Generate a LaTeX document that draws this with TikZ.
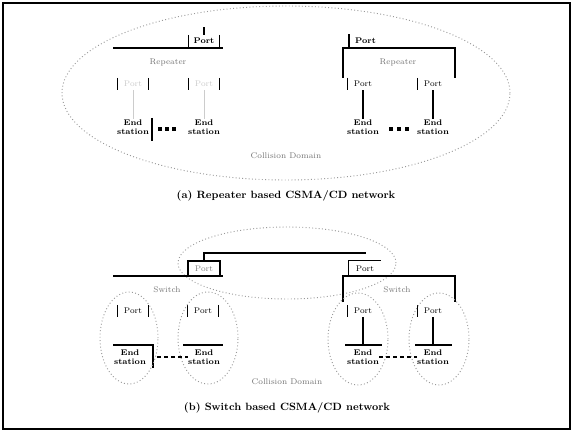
\documentclass[tikz,border=0pt]{standalone}
\usetikzlibrary{positioning}
\begin{document}
\begin{tikzpicture}[x=0.03cm,y=-0.03cm,
  port/.style={minimum width=0.9cm,minimum height=0.36cm,inner sep=0pt,font=\scriptsize},
  station/.style={align=center,font=\scriptsize\bfseries,inner sep=0pt},
  bus/.style={line width=0.9pt},
  cdomain/.style={dotted,line width=0.8pt,gray!80},
  faint/.style={gray!40},
  lbl/.style={font=\scriptsize,text=black!55},
  figcaption/.style={font=\small\bfseries}]
\useasboundingbox (0,0) rectangle (573,432);
\draw[line width=1.4pt] (3,3) rectangle (570,429);

% (a) repeater based network
\draw[cdomain] (286,93) ellipse [x radius=6.72cm, y radius=2.61cm];
% left repeater
\draw[bus] (113,48) -- (223,48);
\node[port,font=\scriptsize\bfseries] (lp0) at (204,41) {Port};
\draw[bus] (lp0.north west) -- (lp0.south west);
\draw[bus] (lp0.north east) -- (lp0.south east);
\draw[bus] (lp0.north) -- ++(0,-8);
\node[lbl] (lrep) at (168,62) {Repeater};
\node[port,faint] (lp1) at (133,84) {Port};
\node[port,faint] (lp2) at (204,84) {Port};
\foreach \p in {lp1,lp2}{
  \draw[bus] (\p.north west) -- (\p.south west);
  \draw[bus] (\p.north east) -- (\p.south east);
}
\node[station] (ls1) at (133,127) {End\\station};
\node[station] (ls2) at (204,127) {End\\station};
\draw[faint] (lp1) -- (ls1);
\draw[faint] (lp2) -- (ls2);
\draw[bus] (152,118) -- (152,141);
\foreach \i in {0,1,2} \fill (158+7*\i,127) rectangle ++(4,4);

% right repeater
\draw[bus] (343,78) -- (343,48) -- (455,48) -- (455,78);
\coordinate (rtap) at (349,34);
\draw[bus] (349,48) -- (rtap);
\node[font=\scriptsize\bfseries,anchor=west] (rp0) at (351,41) {Port};
\node[lbl] (rrep) at (398,62) {Repeater};
\node[port] (rp1) at (363,84) {Port};
\node[port] (rp2) at (433,84) {Port};
\foreach \p in {rp1,rp2}
  \draw[bus] (\p.north west) -- (\p.south west);
\node[station] (rs1) at (363,127) {End\\station};
\node[station] (rs2) at (433,127) {End\\station};
\draw[bus] (rp1) -- (rs1);
\draw[bus] (rp2) -- (rs2);
\foreach \i in {0,1,2} \fill (389+8*\i,127) rectangle ++(4,4);

\node[lbl] (cda) at (286,156) {Collision Domain};
\node[figcaption] (capa) at (286,196) {(a) Repeater based CSMA/CD network};

% (b) switch based network
\draw[cdomain] (287,263) ellipse [x radius=3.27cm, y radius=1.08cm];
\draw[bus] (113,276) -- (223,276);
\node[port,draw,line width=0.9pt,minimum width=0.96cm,minimum height=0.45cm,text=gray] (sp0) at (204,268.5) {Port};
\coordinate (linkend) at (366,253);
\draw[bus] (sp0.north) |- (linkend);
\draw[bus] (343,302) -- (343,276) -- (455,276) -- (455,302);
\node[port,minimum width=0.96cm,minimum height=0.45cm] (sp3) at (365,268.5) {Port};
\draw[bus] (sp3.south west) -- (sp3.north west) -- (sp3.north east);
\node[lbl] (lsw) at (167,290) {Switch};
\node[lbl] (rsw) at (397,290) {Switch};

\node[port] (sp1) at (133,311) {Port};
\node[port] (sp2) at (203,311) {Port};
\foreach \p in {sp1,sp2}{
  \draw[bus] (\p.north west) -- (\p.south west);
  \draw[bus] (\p.north east) -- (\p.south east);
}
\node[port] (sp4) at (363,311) {Port};
\node[port] (sp5) at (433,311) {Port};
\foreach \p in {sp4,sp5}
  \draw[bus] (\p.north west) -- (\p.south west);

\node[station] (ss1) at (130,357) {End\\station};
\node[station] (ss2) at (204,357) {End\\station};
\node[station] (ss3) at (363,357) {End\\station};
\node[station] (ss4) at (433,357) {End\\station};
\draw[bus] (113,345) -- (153,345) -- (153,368);
\draw[bus] (183,345) -- (223,345);
\draw[bus] (345,345) -- (382,345);
\draw[bus] (415,345) -- (452,345);
\draw[bus] (sp4) -- (sp4 |- 0,345);
\draw[bus] (sp5) -- (sp5 |- 0,345);
\draw[bus,dashed] (157,357) -- (ss2.west);
\draw[bus,dashed] (ss3.east) -- (ss4.west);

\draw[cdomain] (129,338) ellipse [x radius=0.87cm, y radius=1.38cm];
\draw[cdomain] (208,338) ellipse [x radius=0.9cm, y radius=1.38cm];
\draw[cdomain] (358,339) ellipse [x radius=0.9cm, y radius=1.38cm];
\draw[cdomain] (439,339) ellipse [x radius=0.9cm, y radius=1.38cm];

\node[lbl] (cdb) at (287,382) {Collision Domain};
\node[figcaption] (capb) at (287,408) {(b) Switch based CSMA/CD network};
\end{tikzpicture}
\end{document}
